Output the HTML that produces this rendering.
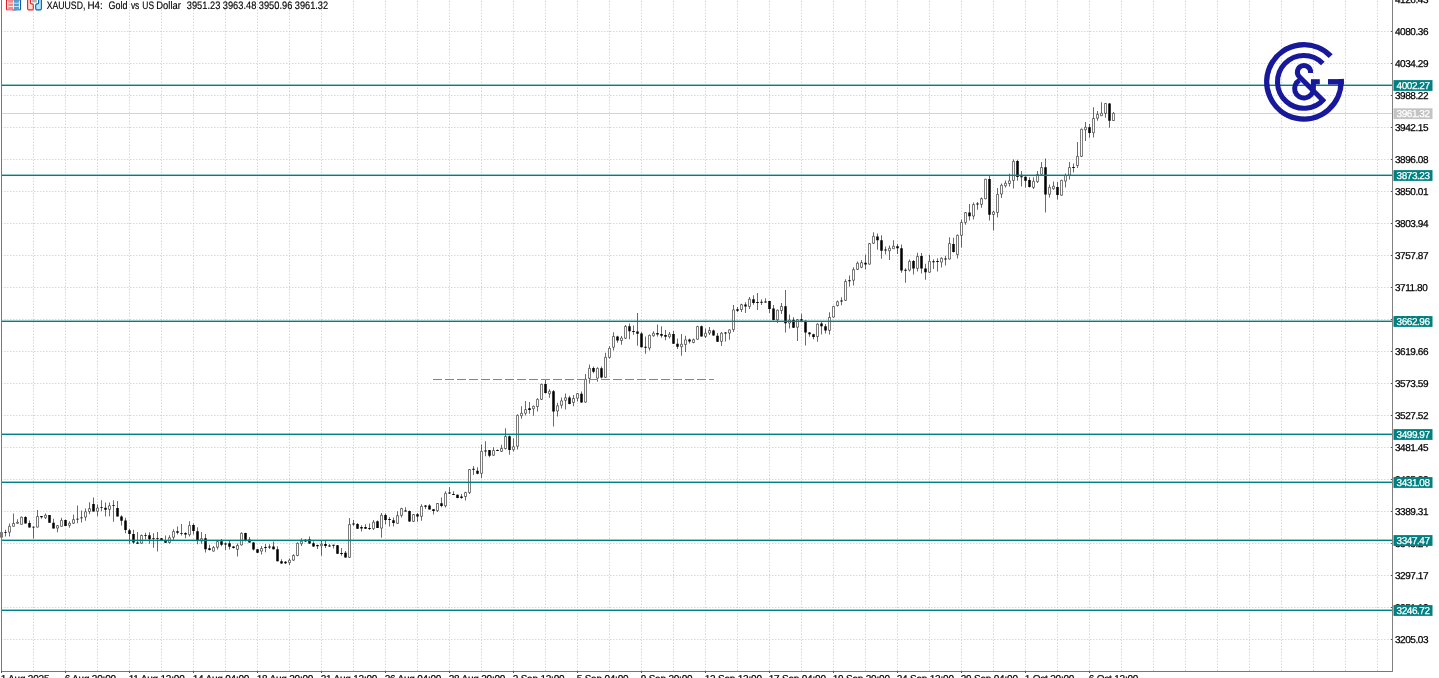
<!DOCTYPE html>
<html lang="en"><head><meta charset="utf-8"><title>XAUUSD, H4: Gold vs US Dollar</title>
<style>
html,body{margin:0;padding:0;background:#fff;}
body{width:1439px;height:678px;overflow:hidden;position:relative;font-family:"Liberation Sans",sans-serif;}
svg{position:absolute;left:0;top:0;display:block;}
text{font-family:"Liberation Sans",sans-serif;text-rendering:geometricPrecision;}
.ax{font-size:10px;letter-spacing:-0.45px;fill:#000;stroke:#000;stroke-width:0.25px;}
.tag{font-size:10px;letter-spacing:-0.45px;fill:#fff;stroke:#fff;stroke-width:0.25px;}
.ttl{font-size:10.9px;fill:#000;stroke:#000;stroke-width:0.15px;}
.grid line{stroke:#d6d6d6;stroke-width:1;stroke-dasharray:1.4 1.6;}
.tm{letter-spacing:-0.2px;}
</style></head><body>
<svg width="1439" height="678" viewBox="0 0 1439 678">
<rect width="1439" height="678" fill="#fff"/>
<g class="grid">
<line x1="33.5" y1="0.6" x2="33.5" y2="671"/>
<line x1="65.5" y1="0.6" x2="65.5" y2="671"/>
<line x1="97.5" y1="0.6" x2="97.5" y2="671"/>
<line x1="129.5" y1="0.6" x2="129.5" y2="671"/>
<line x1="161.5" y1="0.6" x2="161.5" y2="671"/>
<line x1="193.5" y1="0.6" x2="193.5" y2="671"/>
<line x1="225.5" y1="0.6" x2="225.5" y2="671"/>
<line x1="257.5" y1="0.6" x2="257.5" y2="671"/>
<line x1="289.5" y1="0.6" x2="289.5" y2="671"/>
<line x1="321.5" y1="0.6" x2="321.5" y2="671"/>
<line x1="353.5" y1="0.6" x2="353.5" y2="671"/>
<line x1="385.5" y1="0.6" x2="385.5" y2="671"/>
<line x1="417.5" y1="0.6" x2="417.5" y2="671"/>
<line x1="449.5" y1="0.6" x2="449.5" y2="671"/>
<line x1="481.5" y1="0.6" x2="481.5" y2="671"/>
<line x1="513.5" y1="0.6" x2="513.5" y2="671"/>
<line x1="545.5" y1="0.6" x2="545.5" y2="671"/>
<line x1="577.5" y1="0.6" x2="577.5" y2="671"/>
<line x1="609.5" y1="0.6" x2="609.5" y2="671"/>
<line x1="641.5" y1="0.6" x2="641.5" y2="671"/>
<line x1="673.5" y1="0.6" x2="673.5" y2="671"/>
<line x1="705.5" y1="0.6" x2="705.5" y2="671"/>
<line x1="737.5" y1="0.6" x2="737.5" y2="671"/>
<line x1="769.5" y1="0.6" x2="769.5" y2="671"/>
<line x1="801.5" y1="0.6" x2="801.5" y2="671"/>
<line x1="833.5" y1="0.6" x2="833.5" y2="671"/>
<line x1="865.5" y1="0.6" x2="865.5" y2="671"/>
<line x1="897.5" y1="0.6" x2="897.5" y2="671"/>
<line x1="929.5" y1="0.6" x2="929.5" y2="671"/>
<line x1="961.5" y1="0.6" x2="961.5" y2="671"/>
<line x1="993.5" y1="0.6" x2="993.5" y2="671"/>
<line x1="1025.5" y1="0.6" x2="1025.5" y2="671"/>
<line x1="1057.5" y1="0.6" x2="1057.5" y2="671"/>
<line x1="1089.5" y1="0.6" x2="1089.5" y2="671"/>
<line x1="1121.5" y1="0.6" x2="1121.5" y2="671"/>
<line x1="1153.5" y1="0.6" x2="1153.5" y2="671"/>
<line x1="1185.5" y1="0.6" x2="1185.5" y2="671"/>
<line x1="1217.5" y1="0.6" x2="1217.5" y2="671"/>
<line x1="1249.5" y1="0.6" x2="1249.5" y2="671"/>
<line x1="1281.5" y1="0.6" x2="1281.5" y2="671"/>
<line x1="1313.5" y1="0.6" x2="1313.5" y2="671"/>
<line x1="1345.5" y1="0.6" x2="1345.5" y2="671"/>
<line x1="1377.5" y1="0.6" x2="1377.5" y2="671"/>
<line x1="1.1" y1="31.5" x2="1392" y2="31.5"/>
<line x1="1.1" y1="63.5" x2="1392" y2="63.5"/>
<line x1="1.1" y1="95.5" x2="1392" y2="95.5"/>
<line x1="1.1" y1="127.5" x2="1392" y2="127.5"/>
<line x1="1.1" y1="159.5" x2="1392" y2="159.5"/>
<line x1="1.1" y1="191.5" x2="1392" y2="191.5"/>
<line x1="1.1" y1="223.5" x2="1392" y2="223.5"/>
<line x1="1.1" y1="255.5" x2="1392" y2="255.5"/>
<line x1="1.1" y1="287.5" x2="1392" y2="287.5"/>
<line x1="1.1" y1="319.5" x2="1392" y2="319.5"/>
<line x1="1.1" y1="351.5" x2="1392" y2="351.5"/>
<line x1="1.1" y1="383.5" x2="1392" y2="383.5"/>
<line x1="1.1" y1="415.5" x2="1392" y2="415.5"/>
<line x1="1.1" y1="447.5" x2="1392" y2="447.5"/>
<line x1="1.1" y1="479.5" x2="1392" y2="479.5"/>
<line x1="1.1" y1="511.5" x2="1392" y2="511.5"/>
<line x1="1.1" y1="543.5" x2="1392" y2="543.5"/>
<line x1="1.1" y1="575.5" x2="1392" y2="575.5"/>
<line x1="1.1" y1="607.5" x2="1392" y2="607.5"/>
<line x1="1.1" y1="639.5" x2="1392" y2="639.5"/>
</g>
<rect x="2" y="113" width="1390" height="1" fill="#d4d4d4"/>
<g id="candles">
<path fill="#000" d="M1.21 531h0.58v7h-0.58zM5.21 529.7h0.58v6.7h-0.58zM9.21 523.5h0.58v12.9h-0.58zM13.21 513.5h0.58v13.1h-0.58zM17.21 519.3h0.58v4.3h-0.58zM21.21 516.6h0.58v8h-0.58zM25.21 516.3h0.58v7.2h-0.58zM29.21 520.4h0.58v7h-0.58zM33.21 526.6h0.58v11.9h-0.58zM37.21 510.1h0.58v17.3h-0.58zM41.21 515.9h0.58v2.9h-0.58zM45.21 513.5h0.58v5.4h-0.58zM49.21 515h0.58v7.8h-0.58zM53.21 518.7h0.58v9.7h-0.58zM57.21 525h0.58v7.3h-0.58zM61.21 517.7h0.58v8.9h-0.58zM65.21 519.4h0.58v6.6h-0.58zM69.21 521.2h0.58v6.5h-0.58zM73.21 514.8h0.58v9.2h-0.58zM77.21 505.5h0.58v17.7h-0.58zM81.21 510.4h0.58v12.1h-0.58zM85.21 508.4h0.58v12.4h-0.58zM89.21 502.2h0.58v12.1h-0.58zM93.21 497.4h0.58v14.1h-0.58zM97.21 504.4h0.58v11.9h-0.58zM101.21 500.3h0.58v10.9h-0.58zM105.21 502.6h0.58v14h-0.58zM109.21 502.4h0.58v13.9h-0.58zM113.21 500.3h0.58v21.5h-0.58zM117.21 501.1h0.58v15.5h-0.58zM121.21 515.3h0.58v10.3h-0.58zM125.21 517.7h0.58v15.6h-0.58zM129.21 528.7h0.58v15h-0.58zM133.21 529.7h0.58v14h-0.58zM137.21 532.1h0.58v11.6h-0.58zM141.21 534.6h0.58v9.1h-0.58zM145.21 532.8h0.58v6.7h-0.58zM149.21 532.3h0.58v11.4h-0.58zM153.21 533.3h0.58v14.5h-0.58zM157.21 532.1h0.58v19.3h-0.58zM161.21 538h0.58v3h-0.58zM165.21 535.4h0.58v7.4h-0.58zM169.21 535.2h0.58v8.3h-0.58zM173.21 529.2h0.58v11.8h-0.58zM177.21 526.6h0.58v7.8h-0.58zM181.21 524h0.58v11.4h-0.58zM185.21 532.3h0.58v6h-0.58zM189.21 521.2h0.58v15.2h-0.58zM193.21 523.6h0.58v10.8h-0.58zM197.21 527.2h0.58v17h-0.58zM201.21 532h0.58v11.7h-0.58zM205.21 534.1h0.58v18.4h-0.58zM209.21 544.7h0.58v5.7h-0.58zM213.21 546h0.58v5.6h-0.58zM217.21 540.6h0.58v9h-0.58zM221.21 539h0.58v7.3h-0.58zM225.21 542.2h0.58v7.7h-0.58zM229.21 540.6h0.58v9h-0.58zM233.21 546h0.58v2.6h-0.58zM237.21 543.4h0.58v13.2h-0.58zM241.21 532.3h0.58v13.1h-0.58zM245.21 532.7h0.58v8.9h-0.58zM249.21 537h0.58v5.7h-0.58zM253.21 542h0.58v8.4h-0.58zM257.21 548.8h0.58v4.1h-0.58zM261.21 546.1h0.58v8.4h-0.58zM265.21 544h0.58v8.3h-0.58zM269.21 544.2h0.58v4.7h-0.58zM273.21 541.6h0.58v7.8h-0.58zM277.21 546.3h0.58v15.3h-0.58zM281.21 559.2h0.58v4.6h-0.58zM285.21 561h0.58v3h-0.58zM289.21 558.5h0.58v6.5h-0.58zM293.21 554.2h0.58v6.7h-0.58zM297.21 542.3h0.58v13.9h-0.58zM301.21 538.2h0.58v7.7h-0.58zM305.21 539h0.58v3h-0.58zM309.21 536.6h0.58v7.3h-0.58zM313.21 541.3h0.58v5.7h-0.58zM317.21 544.4h0.58v4.6h-0.58zM321.21 541.1h0.58v14.6h-0.58zM325.21 540.8h0.58v7.2h-0.58zM329.21 543.9h0.58v3.1h-0.58zM333.21 544.8h0.58v3.7h-0.58zM337.21 545h0.58v8.9h-0.58zM341.21 548h0.58v7.7h-0.58zM345.21 551.1h0.58v6.7h-0.58zM349.21 518.1h0.58v39.7h-0.58zM353.21 520.1h0.58v5.7h-0.58zM357.21 522.9h0.58v6h-0.58zM361.21 525.3h0.58v6.2h-0.58zM365.21 524.3h0.58v4.6h-0.58zM369.21 523.5h0.58v6.4h-0.58zM373.21 520.1h0.58v9.8h-0.58zM377.21 520.6h0.58v7.5h-0.58zM381.21 512.9h0.58v24.8h-0.58zM385.21 513.4h0.58v11.1h-0.58zM389.21 517.1h0.58v9.3h-0.58zM393.21 517.6h0.58v8.8h-0.58zM397.21 511.2h0.58v12.6h-0.58zM401.21 507.8h0.58v9.8h-0.58zM405.21 507.3h0.58v4.1h-0.58zM409.21 510.5h0.58v11.3h-0.58zM413.21 514h0.58v7.9h-0.58zM417.21 513h0.58v8.8h-0.58zM421.21 504.2h0.58v16.5h-0.58zM425.21 505h0.58v3.9h-0.58zM429.21 504.2h0.58v5.4h-0.58zM433.21 508.9h0.58v5.6h-0.58zM437.21 503h0.58v9h-0.58zM441.21 497.5h0.58v9.8h-0.58zM445.21 491.3h0.58v16.2h-0.58zM449.21 487.2h0.58v6.9h-0.58zM453.21 491.3h0.58v3.6h-0.58zM457.21 494.4h0.58v3.8h-0.58zM461.21 493.9h0.58v4.9h-0.58zM465.21 491.8h0.58v8.8h-0.58zM469.21 469.1h0.58v24.8h-0.58zM473.21 466h0.58v9.1h-0.58zM477.21 467.3h0.58v7h-0.58zM481.21 444.4h0.58v33.6h-0.58zM485.21 441.3h0.58v15h-0.58zM489.21 449.9h0.58v7.4h-0.58zM493.21 447.2h0.58v8.6h-0.58zM497.21 449.6h0.58v1.5h-0.58zM501.21 444.7h0.58v7.2h-0.58zM505.21 428.2h0.58v21.4h-0.58zM509.21 435.6h0.58v19.1h-0.58zM513.21 438.2h0.58v13.4h-0.58zM517.21 414.3h0.58v35.3h-0.58zM521.21 406.3h0.58v12.4h-0.58zM525.21 401.1h0.58v14.5h-0.58zM529.21 401.9h0.58v11.8h-0.58zM533.21 405.5h0.58v10.3h-0.58zM537.21 398.2h0.58v13.2h-0.58zM541.21 383.8h0.58v16.1h-0.58zM545.21 379.2h0.58v14.2h-0.58zM549.21 389.3h0.58v8.5h-0.58zM553.21 390h0.58v36.4h-0.58zM557.21 402.7h0.58v13.9h-0.58zM561.21 397.5h0.58v11.1h-0.58zM565.21 393.4h0.58v16.2h-0.58zM569.21 395.8h0.58v8.4h-0.58zM573.21 395.1h0.58v11.2h-0.58zM577.21 392.9h0.58v8.7h-0.58zM581.21 391.6h0.58v11.1h-0.58zM585.21 374.1h0.58v28.6h-0.58zM589.21 364.5h0.58v19.1h-0.58zM593.21 366.5h0.58v6.8h-0.58zM597.21 367.3h0.58v14.4h-0.58zM601.21 366.5h0.58v11.9h-0.58zM605.21 352.7h0.58v25.3h-0.58zM609.21 346.3h0.58v12.2h-0.58zM613.21 332.3h0.58v18.1h-0.58zM617.21 335.8h0.58v6.9h-0.58zM621.21 336h0.58v8.7h-0.58zM625.21 325.1h0.58v13.9h-0.58zM629.21 323.6h0.58v15.7h-0.58zM633.21 325.4h0.58v9.3h-0.58zM637.21 313h0.58v32.8h-0.58zM641.21 332h0.58v15.5h-0.58zM645.21 336.5h0.58v17.2h-0.58zM649.21 334.4h0.58v16h-0.58zM653.21 331.3h0.58v5.5h-0.58zM657.21 324.4h0.58v12.1h-0.58zM661.21 326.2h0.58v11.6h-0.58zM665.21 330h0.58v10.3h-0.58zM669.21 332h0.58v6.5h-0.58zM673.21 330.8h0.58v13.2h-0.58zM677.21 338.5h0.58v10.4h-0.58zM681.21 334.1h0.58v21.7h-0.58zM685.21 335.8h0.58v16.2h-0.58zM689.21 338.5h0.58v4.9h-0.58zM693.21 338.5h0.58v4.8h-0.58zM697.21 325.8h0.58v13.9h-0.58zM701.21 325.5h0.58v11.1h-0.58zM705.21 328.5h0.58v9.6h-0.58zM709.21 327.1h0.58v7.9h-0.58zM713.21 329.4h0.58v6.4h-0.58zM717.21 333h0.58v9h-0.58zM721.21 332h0.58v13.9h-0.58zM725.21 332h0.58v9.6h-0.58zM729.21 329.2h0.58v10.5h-0.58zM733.21 305.1h0.58v26.9h-0.58zM737.21 306.9h0.58v5.1h-0.58zM741.21 303.8h0.58v8.2h-0.58zM745.21 302.3h0.58v10.6h-0.58zM749.21 296.9h0.58v12h-0.58zM753.21 295.3h0.58v9.5h-0.58zM757.21 293h0.58v17h-0.58zM761.21 299.4h0.58v5.7h-0.58zM765.21 298.2h0.58v4.6h-0.58zM769.21 300.7h0.58v12.4h-0.58zM773.21 305.1h0.58v15.2h-0.58zM777.21 309.6h0.58v13.4h-0.58zM781.21 303.1h0.58v10.8h-0.58zM785.21 290h0.58v42.5h-0.58zM789.21 314.5h0.58v13.9h-0.58zM793.21 317.2h0.58v10.8h-0.58zM797.21 319.2h0.58v21.7h-0.58zM801.21 313.8h0.58v7.5h-0.58zM805.21 320.5h0.58v25h-0.58zM809.21 332.1h0.58v4.7h-0.58zM813.21 333.7h0.58v5.6h-0.58zM817.21 323.3h0.58v18.4h-0.58zM821.21 321.8h0.58v12.7h-0.58zM825.21 323.9h0.58v9.6h-0.58zM829.21 312.2h0.58v22.3h-0.58zM833.21 305.8h0.58v11.9h-0.58zM837.21 300.6h0.58v6h-0.58zM841.21 297.3h0.58v8h-0.58zM845.21 279.2h0.58v21.7h-0.58zM849.21 275.6h0.58v11.1h-0.58zM853.21 267.3h0.58v18.1h-0.58zM857.21 261.6h0.58v8.3h-0.58zM861.21 260.1h0.58v8.2h-0.58zM865.21 254.4h0.58v15.2h-0.58zM869.21 243.1h0.58v21.6h-0.58zM873.21 232.2h0.58v11.6h-0.58zM877.21 233.5h0.58v16.3h-0.58zM881.21 235.3h0.58v23.5h-0.58zM885.21 246.5h0.58v7.9h-0.58zM889.21 245.4h0.58v14.5h-0.58zM893.21 240.3h0.58v8.7h-0.58zM897.21 244.1h0.58v9.8h-0.58zM901.21 244.4h0.58v28.3h-0.58zM905.21 268.3h0.58v14.5h-0.58zM909.21 259.6h0.58v11.8h-0.58zM913.21 260.1h0.58v14.4h-0.58zM917.21 252.7h0.58v18.7h-0.58zM921.21 253.1h0.58v20.4h-0.58zM925.21 263.7h0.58v16h-0.58zM929.21 254.7h0.58v18h-0.58zM933.21 259.2h0.58v9.8h-0.58zM937.21 258.2h0.58v13.2h-0.58zM941.21 257.3h0.58v10.3h-0.58zM945.21 255.7h0.58v9.8h-0.58zM949.21 237.2h0.58v22.4h-0.58zM953.21 237.7h0.58v14.7h-0.58zM957.21 234.6h0.58v24h-0.58zM961.21 219.6h0.58v27.9h-0.58zM965.21 211.9h0.58v12.9h-0.58zM969.21 204.1h0.58v16.5h-0.58zM973.21 202.6h0.58v16.8h-0.58zM977.21 202h0.58v7.8h-0.58zM981.21 197.4h0.58v10.3h-0.58zM985.21 178.7h0.58v20.6h-0.58zM989.21 175.5h0.58v45.1h-0.58zM993.21 210.8h0.58v19.6h-0.58zM997.21 188.1h0.58v29.4h-0.58zM1001.21 183.5h0.58v14.4h-0.58zM1005.21 180.4h0.58v7.2h-0.58zM1009.21 173.7h0.58v12.9h-0.58zM1013.21 159.4h0.58v29.2h-0.58zM1017.21 159.7h0.58v21h-0.58zM1021.21 171.1h0.58v15.5h-0.58zM1025.21 176.3h0.58v11.3h-0.58zM1029.21 177.3h0.58v10.3h-0.58zM1033.21 177.3h0.58v11.6h-0.58zM1037.21 171.1h0.58v11.9h-0.58zM1041.21 162.1h0.58v12.6h-0.58zM1045.21 158.4h0.58v54h-0.58zM1049.21 184.5h0.58v12.9h-0.58zM1053.21 181.4h0.58v8.3h-0.58zM1057.21 182.1h0.58v17.4h-0.58zM1061.21 179.8h0.58v16h-0.58zM1065.21 173.5h0.58v14h-0.58zM1069.21 162h0.58v17.6h-0.58zM1073.21 163.6h0.58v8.9h-0.58zM1077.21 141.9h0.58v26h-0.58zM1081.21 128.5h0.58v28.5h-0.58zM1085.21 122h0.58v18.9h-0.58zM1089.21 124.1h0.58v13.7h-0.58zM1093.21 107.2h0.58v30.3h-0.58zM1097.21 111h0.58v9.8h-0.58zM1101.21 102.2h0.58v13.8h-0.58zM1105.21 103h0.58v14.7h-0.58zM1109.21 103h0.58v24.8h-0.58zM1113.21 112h0.58v9h-0.58z"/>
<path fill="#000" d="M4.25 532.3h2.5v0.8h-2.5zM24.25 517h2.5v6.5h-2.5zM28.25 523h2.5v4.4h-2.5zM32.25 526.8h2.5v0.8h-2.5zM40.25 515.9h2.5v1.3h-2.5zM48.25 515h2.5v7.8h-2.5zM52.25 522.8h2.5v5.6h-2.5zM64.25 520h2.5v6h-2.5zM76.25 518.7h2.5v0.8h-2.5zM80.25 517.5h2.5v0.8h-2.5zM92.25 503.9h2.5v7.6h-2.5zM100.25 507.2h2.5v0.8h-2.5zM104.25 507.8h2.5v2h-2.5zM112.25 505.2h2.5v0.8h-2.5zM116.25 508h2.5v8.6h-2.5zM120.25 516.6h2.5v4.2h-2.5zM124.25 520.4h2.5v9.6h-2.5zM128.25 530.2h2.5v3.7h-2.5zM132.25 533.9h2.5v8.7h-2.5zM136.25 542.6h2.5v1.1h-2.5zM144.25 535h2.5v0.8h-2.5zM148.25 535.2h2.5v4.1h-2.5zM152.25 538.2h2.5v0.8h-2.5zM156.25 538h2.5v0.8h-2.5zM160.25 538.3h2.5v2.3h-2.5zM164.25 540.6h2.5v2.2h-2.5zM176.25 531.3h2.5v1.5h-2.5zM180.25 533h2.5v0.8h-2.5zM184.25 533.1h2.5v1.5h-2.5zM192.25 525.1h2.5v6h-2.5zM196.25 531.3h2.5v8.8h-2.5zM204.25 538.2h2.5v11h-2.5zM208.25 548.3h2.5v1.6h-2.5zM220.25 541.3h2.5v3.4h-2.5zM224.25 543.4h2.5v1h-2.5zM228.25 543.2h2.5v3.6h-2.5zM232.25 546.5h2.5v1.6h-2.5zM244.25 533.1h2.5v6.8h-2.5zM248.25 539.6h2.5v2.8h-2.5zM252.25 542.4h2.5v7.2h-2.5zM256.25 549.2h2.5v3.5h-2.5zM264.25 547.1h2.5v0.9h-2.5zM268.25 546.5h2.5v1h-2.5zM272.25 546.5h2.5v2.7h-2.5zM276.25 549.2h2.5v12h-2.5zM280.25 561.2h2.5v2.4h-2.5zM284.25 561.8h2.5v1.5h-2.5zM304.25 539.7h2.5v1.8h-2.5zM308.25 539.2h2.5v4.3h-2.5zM312.25 543.3h2.5v3.3h-2.5zM316.25 544.9h2.5v1.3h-2.5zM324.25 543.9h2.5v2h-2.5zM328.25 545.4h2.5v1.2h-2.5zM332.25 544.8h2.5v0.9h-2.5zM336.25 545.2h2.5v8.5h-2.5zM340.25 553.1h2.5v0.9h-2.5zM344.25 552.8h2.5v4.8h-2.5zM352.25 523.4h2.5v1h-2.5zM356.25 523.9h2.5v4.8h-2.5zM360.25 527h2.5v1.4h-2.5zM364.25 527h2.5v1.7h-2.5zM368.25 528h2.5v1h-2.5zM376.25 521.2h2.5v6.7h-2.5zM384.25 515h2.5v5h-2.5zM388.25 519h2.5v1h-2.5zM392.25 520.2h2.5v2.8h-2.5zM404.25 510.4h2.5v1h-2.5zM408.25 510.9h2.5v10.7h-2.5zM416.25 514.3h2.5v2.3h-2.5zM424.25 505.5h2.5v1.3h-2.5zM428.25 505.5h2.5v3.9h-2.5zM432.25 509.2h2.5v1.7h-2.5zM440.25 503.2h2.5v2.9h-2.5zM448.25 492.4h2.5v1h-2.5zM452.25 493.9h2.5v1h-2.5zM456.25 494.7h2.5v3.3h-2.5zM460.25 496.5h2.5v1.5h-2.5zM472.25 468.8h2.5v1h-2.5zM476.25 470.7h2.5v3.1h-2.5zM484.25 450.4h2.5v1h-2.5zM488.25 450.1h2.5v5.7h-2.5zM496.25 450.1h2.5v1h-2.5zM508.25 436.2h2.5v13.7h-2.5zM528.25 408.3h2.5v1.6h-2.5zM544.25 384.1h2.5v9h-2.5zM552.25 391.3h2.5v20.1h-2.5zM568.25 397.5h2.5v6.5h-2.5zM580.25 393.7h2.5v8.7h-2.5zM592.25 368.1h2.5v3.6h-2.5zM600.25 368.3h2.5v9.3h-2.5zM616.25 336.5h2.5v4.1h-2.5zM628.25 326.2h2.5v5.1h-2.5zM632.25 331.1h2.5v1h-2.5zM636.25 331.6h2.5v2.1h-2.5zM640.25 333.4h2.5v13.9h-2.5zM644.25 346.8h2.5v1h-2.5zM656.25 333.1h2.5v1.3h-2.5zM660.25 334.1h2.5v1.7h-2.5zM664.25 334.9h2.5v1.9h-2.5zM672.25 334.1h2.5v9.6h-2.5zM676.25 343.7h2.5v3.1h-2.5zM688.25 339.6h2.5v2h-2.5zM700.25 326.3h2.5v10.1h-2.5zM712.25 330.4h2.5v5.2h-2.5zM716.25 335.8h2.5v6h-2.5zM724.25 332.6h2.5v1h-2.5zM736.25 309.3h2.5v1.5h-2.5zM744.25 304.6h2.5v1.9h-2.5zM752.25 299.2h2.5v3.9h-2.5zM756.25 302h2.5v1h-2.5zM760.25 301.8h2.5v1h-2.5zM764.25 301.6h2.5v1h-2.5zM768.25 301h2.5v7.9h-2.5zM772.25 308.5h2.5v11.6h-2.5zM784.25 306.2h2.5v17h-2.5zM792.25 319.7h2.5v8h-2.5zM800.25 319.2h2.5v1.6h-2.5zM804.25 320.8h2.5v11.8h-2.5zM808.25 332.4h2.5v1.8h-2.5zM812.25 334.2h2.5v2.8h-2.5zM820.25 323.5h2.5v2.7h-2.5zM824.25 326.2h2.5v4.4h-2.5zM840.25 300.4h2.5v1.2h-2.5zM848.25 280.2h2.5v1h-2.5zM864.25 262.7h2.5v1.7h-2.5zM876.25 236.6h2.5v3.7h-2.5zM880.25 240.3h2.5v10.5h-2.5zM884.25 249.4h2.5v1h-2.5zM896.25 246.2h2.5v2h-2.5zM900.25 248.2h2.5v22.4h-2.5zM904.25 269.8h2.5v1h-2.5zM912.25 261.1h2.5v7.5h-2.5zM920.25 256h2.5v12.6h-2.5zM924.25 268.6h2.5v3.7h-2.5zM932.25 261.3h2.5v1h-2.5zM936.25 261.1h2.5v1h-2.5zM944.25 258.4h2.5v1h-2.5zM952.25 243.9h2.5v8.2h-2.5zM968.25 212.6h2.5v3.7h-2.5zM976.25 203.4h2.5v1h-2.5zM988.25 179h2.5v35.7h-2.5zM1016.25 161.1h2.5v15.9h-2.5zM1020.25 176.3h2.5v1h-2.5zM1024.25 176.8h2.5v3.9h-2.5zM1028.25 180.1h2.5v7h-2.5zM1044.25 167.3h2.5v27.2h-2.5zM1056.25 186.9h2.5v8.2h-2.5zM1072.25 167h2.5v1h-2.5zM1088.25 127.2h2.5v5.8h-2.5zM1108.25 103.5h2.5v17.3h-2.5z"/>
<path fill="#fff" stroke="#000" stroke-width="0.52" d="M0.51 532.36h1.98v4.88h-1.98zM8.51 526.36h1.98v5.88h-1.98zM12.51 523.46h1.98v2.88h-1.98zM16.51 522.26h1.98v1.08h-1.98zM20.51 517.26h1.98v7.08h-1.98zM36.51 516.56h1.98v10.58h-1.98zM44.51 515.26h1.98v2.38h-1.98zM56.51 525.66h1.98v2.48h-1.98zM60.51 520.36h1.98v5.98h-1.98zM68.51 523.26h1.98v2.08h-1.98zM72.51 519.66h1.98v3.58h-1.98zM84.51 511.76h1.98v5.28h-1.98zM88.51 508.66h1.98v2.78h-1.98zM96.51 508.06h1.98v3.18h-1.98zM108.51 505.76h1.98v3.58h-1.98zM140.51 535.46h1.98v7.78h-1.98zM168.51 537.76h1.98v4.78h-1.98zM172.51 531.56h1.98v5.68h-1.98zM188.51 525.56h1.98v9.08h-1.98zM200.51 538.66h1.98v2.48h-1.98zM212.51 547.56h1.98v3.58h-1.98zM216.51 541.56h1.98v5.68h-1.98zM236.51 545.46h1.98v3.88h-1.98zM240.51 533.36h1.98v11.58h-1.98zM260.51 548.56h1.98v2.58h-1.98zM288.51 560.26h1.98v2.38h-1.98zM292.51 555.46h1.98v4.68h-1.98zM296.51 543.36h1.98v12.08h-1.98zM300.51 541.26h1.98v2.48h-1.98zM320.51 544.16h1.98v1.48h-1.98zM348.51 524.56h1.98v32.78h-1.98zM372.51 522.16h1.98v6.48h-1.98zM380.51 515.26h1.98v12.88h-1.98zM396.51 515.66h1.98v7.68h-1.98zM400.51 508.56h1.98v6.78h-1.98zM412.51 514.56h1.98v6.78h-1.98zM420.51 506.36h1.98v9.98h-1.98zM436.51 503.46h1.98v7.18h-1.98zM444.51 493.36h1.98v12.48h-1.98zM464.51 492.56h1.98v3.98h-1.98zM468.51 469.56h1.98v23.08h-1.98zM480.51 451.36h1.98v21.98h-1.98zM492.51 450.56h1.98v4.68h-1.98zM500.51 448.46h1.98v2.88h-1.98zM504.51 436.46h1.98v12.08h-1.98zM512.51 446.76h1.98v2.88h-1.98zM516.51 415.36h1.98v30.88h-1.98zM520.51 413.26h1.98v2.48h-1.98zM524.51 409.66h1.98v3.58h-1.98zM532.51 406.26h1.98v2.48h-1.98zM536.51 399.36h1.98v7.18h-1.98zM540.51 384.36h1.98v14.98h-1.98zM548.51 391.26h1.98v2.48h-1.98zM556.51 405.76h1.98v5.18h-1.98zM560.51 400.86h1.98v4.38h-1.98zM564.51 397.76h1.98v2.58h-1.98zM572.51 398.46h1.98v3.98h-1.98zM576.51 393.66h1.98v4.58h-1.98zM584.51 379.16h1.98v22.98h-1.98zM588.51 368.36h1.98v9.98h-1.98zM596.51 368.36h1.98v9.78h-1.98zM604.51 357.36h1.98v19.98h-1.98zM608.51 348.36h1.98v8.98h-1.98zM612.51 336.46h1.98v10.78h-1.98zM620.51 338.06h1.98v2.48h-1.98zM624.51 326.46h1.98v11.78h-1.98zM648.51 335.36h1.98v12.68h-1.98zM652.51 333.26h1.98v2.48h-1.98zM668.51 334.26h1.98v2.48h-1.98zM680.51 344.26h1.98v2.48h-1.98zM684.51 339.86h1.98v4.58h-1.98zM692.51 339.76h1.98v2.68h-1.98zM696.51 326.56h1.98v12.68h-1.98zM704.51 333.26h1.98v3.08h-1.98zM708.51 330.46h1.98v2.58h-1.98zM720.51 333.26h1.98v8.08h-1.98zM728.51 329.86h1.98v3.18h-1.98zM732.51 309.86h1.98v19.78h-1.98zM740.51 304.66h1.98v4.88h-1.98zM748.51 299.16h1.98v7.28h-1.98zM776.51 310.26h1.98v9.58h-1.98zM780.51 306.46h1.98v4.08h-1.98zM788.51 320.06h1.98v2.98h-1.98zM796.51 319.66h1.98v7.58h-1.98zM816.51 324.16h1.98v12.38h-1.98zM828.51 317.46h1.98v12.88h-1.98zM832.51 306.56h1.98v10.58h-1.98zM836.51 301.76h1.98v3.78h-1.98zM844.51 281.46h1.98v18.88h-1.98zM852.51 269.66h1.98v10.58h-1.98zM856.51 263.26h1.98v6.08h-1.98zM860.51 262.66h1.98v4.58h-1.98zM868.51 243.66h1.98v20.48h-1.98zM872.51 236.36h1.98v6.98h-1.98zM888.51 248.26h1.98v2.48h-1.98zM892.51 246.26h1.98v2.48h-1.98zM908.51 261.36h1.98v8.78h-1.98zM916.51 256.46h1.98v11.88h-1.98zM928.51 261.36h1.98v10.88h-1.98zM940.51 258.26h1.98v3.88h-1.98zM948.51 243.56h1.98v15.48h-1.98zM956.51 235.36h1.98v19.08h-1.98zM960.51 222.46h1.98v12.88h-1.98zM964.51 212.66h1.98v9.78h-1.98zM972.51 204.56h1.98v11.48h-1.98zM980.51 198.66h1.98v5.68h-1.98zM984.51 179.26h1.98v19.48h-1.98zM992.51 212.06h1.98v2.48h-1.98zM996.51 194.36h1.98v18.08h-1.98zM1000.51 185.26h1.98v8.78h-1.98zM1004.51 183.26h1.98v2.48h-1.98zM1008.51 180.86h1.98v2.68h-1.98zM1012.51 161.36h1.98v19.08h-1.98zM1032.51 181.36h1.98v5.98h-1.98zM1036.51 174.46h1.98v7.18h-1.98zM1040.51 167.56h1.98v6.68h-1.98zM1048.51 187.36h1.98v6.88h-1.98zM1052.51 186.26h1.98v2.48h-1.98zM1060.51 180.36h1.98v14.88h-1.98zM1064.51 175.56h1.98v5.58h-1.98zM1068.51 167.56h1.98v7.58h-1.98zM1076.51 156.36h1.98v9.18h-1.98zM1080.51 129.36h1.98v26.98h-1.98zM1084.51 127.26h1.98v2.48h-1.98zM1092.51 118.46h1.98v14.28h-1.98zM1096.51 114.36h1.98v3.88h-1.98zM1100.51 113.26h1.98v2.48h-1.98zM1104.51 103.56h1.98v9.78h-1.98zM1112.51 113.36h1.98v7.18h-1.98z"/>
</g>
<line x1="433" y1="379.5" x2="714" y2="379.5" stroke="#5fa05a" stroke-width="1" stroke-dasharray="9 3"/>
<rect x="2" y="84" width="1390" height="1" fill="#008080" opacity="0.42"/>
<rect x="2" y="85" width="1390" height="1" fill="#008080"/>
<rect x="2" y="174" width="1390" height="1" fill="#008080" opacity="0.42"/>
<rect x="2" y="175" width="1390" height="1" fill="#008080"/>
<rect x="2" y="320" width="1390" height="1" fill="#008080" opacity="0.42"/>
<rect x="2" y="321" width="1390" height="1" fill="#008080"/>
<rect x="2" y="433" width="1390" height="1" fill="#008080" opacity="0.42"/>
<rect x="2" y="434" width="1390" height="1" fill="#008080"/>
<rect x="2" y="481" width="1390" height="1" fill="#008080" opacity="0.42"/>
<rect x="2" y="482" width="1390" height="1" fill="#008080"/>
<rect x="2" y="539" width="1390" height="1" fill="#008080" opacity="0.42"/>
<rect x="2" y="540" width="1390" height="1" fill="#008080"/>
<rect x="2" y="609" width="1390" height="1" fill="#008080" opacity="0.42"/>
<rect x="2" y="610" width="1390" height="1" fill="#008080"/>
<rect x="1" y="0" width="1" height="672" fill="#787878"/>
<rect x="1392" y="0" width="1" height="672" fill="#808080"/>
<rect x="1" y="671" width="1392" height="1" fill="#787878"/>
<rect x="1391" y="-1" width="1" height="1" fill="#555"/>
<text class="ax" x="1395" y="3.0">4126.43</text>
<rect x="1391" y="31" width="1" height="1" fill="#555"/>
<text class="ax" x="1395" y="35.0">4080.36</text>
<rect x="1391" y="63" width="1" height="1" fill="#555"/>
<text class="ax" x="1395" y="67.0">4034.29</text>
<rect x="1391" y="95" width="1" height="1" fill="#555"/>
<text class="ax" x="1395" y="99.0">3988.22</text>
<rect x="1391" y="127" width="1" height="1" fill="#555"/>
<text class="ax" x="1395" y="131.0">3942.15</text>
<rect x="1391" y="159" width="1" height="1" fill="#555"/>
<text class="ax" x="1395" y="163.0">3896.08</text>
<rect x="1391" y="191" width="1" height="1" fill="#555"/>
<text class="ax" x="1395" y="195.0">3850.01</text>
<rect x="1391" y="223" width="1" height="1" fill="#555"/>
<text class="ax" x="1395" y="227.0">3803.94</text>
<rect x="1391" y="255" width="1" height="1" fill="#555"/>
<text class="ax" x="1395" y="259.0">3757.87</text>
<rect x="1391" y="287" width="1" height="1" fill="#555"/>
<text class="ax" x="1395" y="291.0">3711.80</text>
<rect x="1391" y="319" width="1" height="1" fill="#555"/>
<text class="ax" x="1395" y="323.0">3665.73</text>
<rect x="1391" y="351" width="1" height="1" fill="#555"/>
<text class="ax" x="1395" y="355.0">3619.66</text>
<rect x="1391" y="383" width="1" height="1" fill="#555"/>
<text class="ax" x="1395" y="387.0">3573.59</text>
<rect x="1391" y="415" width="1" height="1" fill="#555"/>
<text class="ax" x="1395" y="419.0">3527.52</text>
<rect x="1391" y="447" width="1" height="1" fill="#555"/>
<text class="ax" x="1395" y="451.0">3481.45</text>
<rect x="1391" y="479" width="1" height="1" fill="#555"/>
<text class="ax" x="1395" y="483.0">3435.38</text>
<rect x="1391" y="511" width="1" height="1" fill="#555"/>
<text class="ax" x="1395" y="515.0">3389.31</text>
<rect x="1391" y="543" width="1" height="1" fill="#555"/>
<text class="ax" x="1395" y="547.0">3343.24</text>
<rect x="1391" y="575" width="1" height="1" fill="#555"/>
<text class="ax" x="1395" y="579.0">3297.17</text>
<rect x="1391" y="607" width="1" height="1" fill="#555"/>
<text class="ax" x="1395" y="611.0">3251.10</text>
<rect x="1391" y="639" width="1" height="1" fill="#555"/>
<text class="ax" x="1395" y="643.0">3205.03</text>
<rect x="1393.5" y="108.3" width="39" height="10.8" fill="#c4c4c4"/>
<text class="tag" x="1396.6" y="117.4">3961.32</text>
<rect x="1393.5" y="80.1" width="39" height="10.8" fill="#008080"/>
<text class="tag" x="1396.6" y="89.0">4002.27</text>
<rect x="1393.5" y="170.1" width="39" height="10.8" fill="#008080"/>
<text class="tag" x="1396.6" y="179.0">3873.23</text>
<rect x="1393.5" y="316.1" width="39" height="10.8" fill="#008080"/>
<text class="tag" x="1396.6" y="325.0">3662.96</text>
<rect x="1393.5" y="429.1" width="39" height="10.8" fill="#008080"/>
<text class="tag" x="1396.6" y="438.0">3499.97</text>
<rect x="1393.5" y="477.1" width="39" height="10.8" fill="#008080"/>
<text class="tag" x="1396.6" y="486.0">3431.08</text>
<rect x="1393.5" y="535.1" width="39" height="10.8" fill="#008080"/>
<text class="tag" x="1396.6" y="544.0">3347.47</text>
<rect x="1393.5" y="605.1" width="39" height="10.8" fill="#008080"/>
<text class="tag" x="1396.6" y="614.0">3246.72</text>
<rect x="1" y="671" width="1" height="2" fill="#555"/>
<text class="ax tm" x="0.7" y="681.9">1 Aug 2025</text>
<rect x="65" y="671" width="1" height="2" fill="#555"/>
<text class="ax tm" x="64.7" y="681.9">6 Aug 20:00</text>
<rect x="129" y="671" width="1" height="2" fill="#555"/>
<text class="ax tm" x="128.7" y="681.9">11 Aug 12:00</text>
<rect x="193" y="671" width="1" height="2" fill="#555"/>
<text class="ax tm" x="192.7" y="681.9">14 Aug 04:00</text>
<rect x="257" y="671" width="1" height="2" fill="#555"/>
<text class="ax tm" x="256.7" y="681.9">18 Aug 20:00</text>
<rect x="321" y="671" width="1" height="2" fill="#555"/>
<text class="ax tm" x="320.7" y="681.9">21 Aug 12:00</text>
<rect x="385" y="671" width="1" height="2" fill="#555"/>
<text class="ax tm" x="384.7" y="681.9">26 Aug 04:00</text>
<rect x="449" y="671" width="1" height="2" fill="#555"/>
<text class="ax tm" x="448.7" y="681.9">28 Aug 20:00</text>
<rect x="513" y="671" width="1" height="2" fill="#555"/>
<text class="ax tm" x="512.7" y="681.9">2 Sep 12:00</text>
<rect x="577" y="671" width="1" height="2" fill="#555"/>
<text class="ax tm" x="576.7" y="681.9">5 Sep 04:00</text>
<rect x="641" y="671" width="1" height="2" fill="#555"/>
<text class="ax tm" x="640.7" y="681.9">9 Sep 20:00</text>
<rect x="705" y="671" width="1" height="2" fill="#555"/>
<text class="ax tm" x="704.7" y="681.9">12 Sep 12:00</text>
<rect x="769" y="671" width="1" height="2" fill="#555"/>
<text class="ax tm" x="768.7" y="681.9">17 Sep 04:00</text>
<rect x="833" y="671" width="1" height="2" fill="#555"/>
<text class="ax tm" x="832.7" y="681.9">19 Sep 20:00</text>
<rect x="897" y="671" width="1" height="2" fill="#555"/>
<text class="ax tm" x="896.7" y="681.9">24 Sep 12:00</text>
<rect x="961" y="671" width="1" height="2" fill="#555"/>
<text class="ax tm" x="960.7" y="681.9">29 Sep 04:00</text>
<rect x="1025" y="671" width="1" height="2" fill="#555"/>
<text class="ax tm" x="1024.7" y="681.9">1 Oct 20:00</text>
<rect x="1089" y="671" width="1" height="2" fill="#555"/>
<text class="ax tm" x="1088.7" y="681.9">6 Oct 12:00</text>
<g id="icon-depth">
<rect x="6" y="-1" width="7.6" height="11.6" rx="1.2" fill="#f28a8c"/>
<rect x="13.4" y="-1" width="7.6" height="11.6" rx="1.2" fill="#5b9bd0"/>
<rect x="12" y="-1" width="3" height="11.6" fill="#f28a8c"/>
<rect x="13.5" y="-1" width="3" height="11.6" fill="#5b9bd0"/>
<rect x="6" y="-1" width="1.2" height="10.6" fill="#e81c24"/>
<rect x="19.9" y="-1" width="1.2" height="10.6" fill="#0b5fae"/>
<rect x="7.2" y="0.6" width="1" height="8.2" fill="#fff"/>
<rect x="13" y="0.6" width="0.9" height="8.2" fill="#fff"/>
<rect x="18.9" y="0.6" width="1" height="8.2" fill="#fff"/>
<rect x="8.2" y="2.7" width="4.8" height="1" fill="#ffe9e4"/>
<rect x="8.2" y="6" width="4.8" height="1" fill="#ffe9e4"/>
<rect x="13.9" y="2.7" width="5" height="1" fill="#bfe8ff"/>
<rect x="13.9" y="6" width="5" height="1" fill="#bfe8ff"/>
</g>
<g id="icon-trade">
<path d="M27.6 -1 V8.6 Q27.6 9.9 28.9 9.9 H32 Q33.3 9.9 33.3 8.6 V5.2 Q33.3 3.9 32 3.9 H31.6 Q30.4 3.9 30.4 2.7 V-1 Z" fill="#ffdcd2" stroke="#e81c24" stroke-width="1.1"/>
<path d="M41.4 -1 V8.6 Q41.4 9.9 40.1 9.9 H37 Q35.7 9.9 35.7 8.6 V5.2 Q35.7 3.9 37 3.9 H37.4 Q38.6 3.9 38.6 2.7 V-1 Z" fill="#b4e6ff" stroke="#0b5fae" stroke-width="1.1"/>
<rect x="28.4" y="9.6" width="5" height="1" fill="#f28a8c" opacity="0.7"/>
<rect x="36" y="9.6" width="5" height="1" fill="#5b9bd0" opacity="0.7"/>
<rect x="31.9" y="-1" width="4.9" height="3.4" fill="#b4b4b4"/>
</g>

<text class="ttl" y="9.0"><tspan x="46.80" textLength="38.50" lengthAdjust="spacingAndGlyphs">XAUUSD,</tspan> <tspan x="87.40" textLength="15.30" lengthAdjust="spacingAndGlyphs">H4:</tspan> <tspan x="108.50" textLength="18.90" lengthAdjust="spacingAndGlyphs">Gold</tspan> <tspan x="130.90" textLength="8.40" lengthAdjust="spacingAndGlyphs">vs</tspan> <tspan x="142.30" textLength="11.70" lengthAdjust="spacingAndGlyphs">US</tspan> <tspan x="156.30" textLength="24.55" lengthAdjust="spacingAndGlyphs">Dollar</tspan> <tspan x="186.80" textLength="33.50" lengthAdjust="spacingAndGlyphs">3951.23</tspan> <tspan x="222.80" textLength="33.50" lengthAdjust="spacingAndGlyphs">3963.48</tspan> <tspan x="258.80" textLength="33.50" lengthAdjust="spacingAndGlyphs">3950.96</tspan> <tspan x="294.80" textLength="33.30" lengthAdjust="spacingAndGlyphs">3961.32</tspan></text>
<g id="logo">
<path d="M1340.95 79.06 A37.15 37.15 0 1 1 1330.71 56.14" fill="none" stroke="#18189b" stroke-width="5.4"/>
<rect x="1328.0" y="79.1" width="15.9" height="5.4" fill="#18189b"/>
<path d="M1322.83 63.44 A26.4 26.4 0 1 0 1324.12 98.82" fill="none" stroke="#18189b" stroke-width="5.1"/>
<path d="M1310.60 73.00 L1310.60 72.10 A6.6 6.6 0 1 0 1299.33 76.77 L1324.30 101.73" fill="none" stroke="#18189b" stroke-width="5.0"/>
<path d="M1299.59 80.30 A9.4 9.4 0 1 0 1313.40 88.60 L1313.40 80" fill="none" stroke="#18189b" stroke-width="5.0"/>
<rect x="1311.0" y="79.2" width="8.8" height="5.1" fill="#18189b"/>
</g>
</svg>
</body></html>
